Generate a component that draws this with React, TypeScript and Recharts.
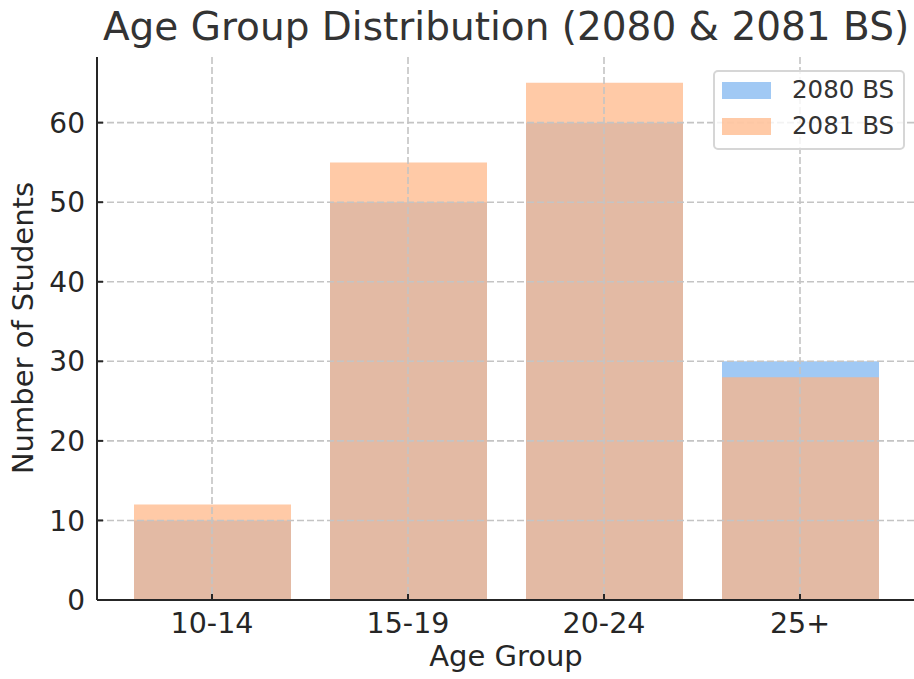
import { Bar, BarChart, CartesianGrid, Legend, XAxis, YAxis } from "recharts";

const AGE_GROUPS = ["10-14", "15-19", "20-24", "25+"];
const STUDENTS_2080 = [10, 50, 60, 30];
const STUDENTS_2081 = [12, 55, 65, 28];
const Y_TICKS = [0, 10, 20, 30, 40, 50, 60];

const SERIES = [
  { key: "y2080", name: "2080 BS", color: "#a1c9f4", opacity: 1 },
  { key: "y2081", name: "2081 BS", color: "#ffb482", opacity: 0.7 },
];

const data = AGE_GROUPS.map((group, i) => ({
  group,
  y2080: STUDENTS_2080[i],
  y2081: STUDENTS_2081[i],
}));

const FONT = "'DejaVu Sans', sans-serif";
const INK = "#262626";

function XTick({ x, y, payload }: any) {
  return (
    <g>
      <line x1={x} x2={x} y1={y} y2={y - 6} stroke={INK} strokeWidth={2} />
      <text x={x} y={y + 33} textAnchor="middle" fontSize={28.5} fontFamily={FONT} fill={INK}>
        {payload.value}
      </text>
    </g>
  );
}

function YTick({ x, y, payload }: any) {
  return (
    <g>
      <line x1={x} x2={x + 6} y1={y} y2={y} stroke={INK} strokeWidth={2} />
      <text x={x - 12} y={y} dy="0.36em" textAnchor="end" fontSize={28} fontFamily={FONT} fill={INK}>
        {payload.value}
      </text>
    </g>
  );
}

function LegendBox() {
  return (
    <div
      style={{
        position: "relative",
        width: 188,
        height: 76,
        border: "2px solid #d6d6d6",
        borderRadius: 5,
        background: "rgba(255,255,255,0.8)",
        fontFamily: FONT,
      }}
    >
      {SERIES.map((s, i) => (
        <div key={s.key}>
          <div
            style={{
              position: "absolute",
              left: 7,
              top: 10 + i * 36,
              width: 49,
              height: 17,
              background: s.color,
              opacity: s.opacity,
            }}
          />
          <div
            style={{
              position: "absolute",
              left: 77,
              top: 3 + i * 36,
              fontSize: 24.5,
              lineHeight: "30px",
              color: "#333",
              whiteSpace: "nowrap",
            }}
          >
            {s.name}
          </div>
        </div>
      ))}
    </div>
  );
}

export default function App() {
  return (
    <div style={{ position: "absolute", left: 0, top: 0, width: 914, height: 679, background: "#fff" }}>
      <div
        style={{
          position: "absolute",
          left: 0,
          width: 1012,
          top: 4,
          textAlign: "center",
          fontFamily: FONT,
          fontSize: 39,
          lineHeight: "46px",
          color: "#333",
          whiteSpace: "nowrap",
        }}
      >
        Age Group Distribution (2080 &amp; 2081 BS)
      </div>
      <BarChart
        width={914}
        height={679}
        data={data}
        margin={{ top: 57, right: -2, bottom: 0, left: 40 }}
        barSize={157}
        barGap={-157}
      >
        <XAxis
          dataKey="group"
          height={79}
          padding={{ left: 17, right: 18 }}
          tickSize={0}
          tickMargin={0}
          tickLine={false}
          tick={<XTick />}
          axisLine={{ stroke: INK, strokeWidth: 2 }}
          interval={0}
        />
        <YAxis
          width={57}
          domain={[0, 68.25]}
          ticks={Y_TICKS}
          tickSize={0}
          tickMargin={0}
          tickLine={false}
          tick={<YTick />}
          axisLine={{ stroke: INK, strokeWidth: 2 }}
        />
        {SERIES.map((s) => (
          <Bar
            key={s.key}
            dataKey={s.key}
            name={s.name}
            fill={s.color}
            fillOpacity={s.opacity}
            isAnimationActive={false}
          />
        ))}
        <CartesianGrid
          stroke="#c4c4c4"
          strokeWidth={1.6}
          strokeDasharray="7 3"
          horizontalValues={Y_TICKS.filter((v) => v > 0)}
          zIndex={400}
        />
        <Legend
          layout="vertical"
          align="center"
          verticalAlign="middle"
          content={() => <LegendBox />}
          wrapperStyle={{ position: "absolute", left: 713, top: 70, width: 192, height: 80 }}
        />
      </BarChart>
      <div
        style={{
          position: "absolute",
          left: 0,
          width: 1012,
          top: 638,
          textAlign: "center",
          fontFamily: FONT,
          fontSize: 29,
          lineHeight: "36px",
          color: INK,
        }}
      >
        Age Group
      </div>
      <div
        style={{
          position: "absolute",
          left: 23,
          top: 328,
          transform: "translate(-50%, -50%) rotate(-90deg)",
          fontFamily: FONT,
          fontSize: 29,
          lineHeight: "36px",
          color: INK,
          whiteSpace: "nowrap",
        }}
      >
        Number of Students
      </div>
    </div>
  );
}
